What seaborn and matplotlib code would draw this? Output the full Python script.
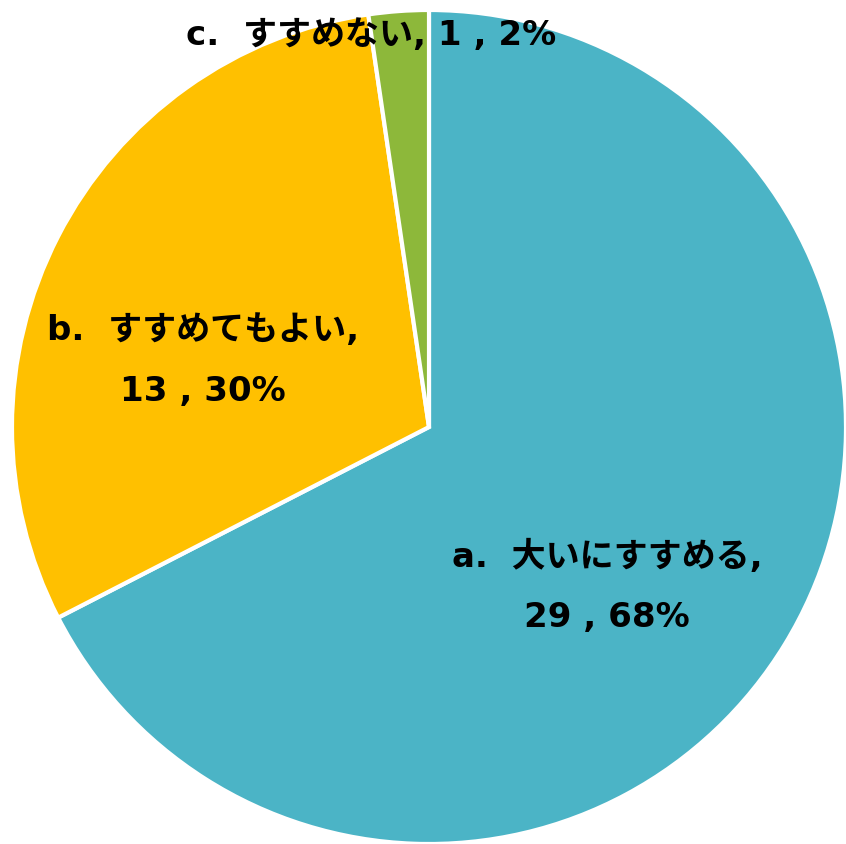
import matplotlib
matplotlib.use("Agg")
import matplotlib.pyplot as plt
import seaborn as sns

# data
labels = ["a.  大いにすすめる", "b.  すすめてもよい", "c.  すすめない"]
counts = [29, 13, 1]
percents = ["68%", "30%", "2%"]
colors = ["#4BB4C6", "#FFC000", "#8DB83A"]

sns.set_theme(style="white")
plt.rcParams['font.family'] = ['DejaVu Sans', 'Noto Sans CJK JP']

fig = plt.figure(figsize=(8.46, 8.45), dpi=100)
ax = fig.add_axes([0, 0, 1, 1])

ax.pie(counts, colors=colors, startangle=90, counterclock=False,
       center=(429, 417), radius=417,
       wedgeprops=dict(edgecolor='white', linewidth=3))

# pie() resets the limits, so set them afterwards (pixel units)
ax.set_xlim(0, 846)
ax.set_ylim(0, 845)
ax.set_aspect('equal')
ax.axis('off')

# label centres (pixels) and layout per slice
label_pos = [(607, 258), (203, 484), (371, 810)]
two_line = [True, True, False]
for lab, n, p, (x, y), tl in zip(labels, counts, percents, label_pos, two_line):
    if tl:
        txt = f"{lab},\n{n} , {p}"
    else:
        txt = f"{lab}, {n} , {p}"
    ax.text(x, y, txt, ha='center', va='center', fontsize=24.5,
            fontweight='bold', color='black', linespacing=2.05)

fig.savefig("out.png", dpi=100)
